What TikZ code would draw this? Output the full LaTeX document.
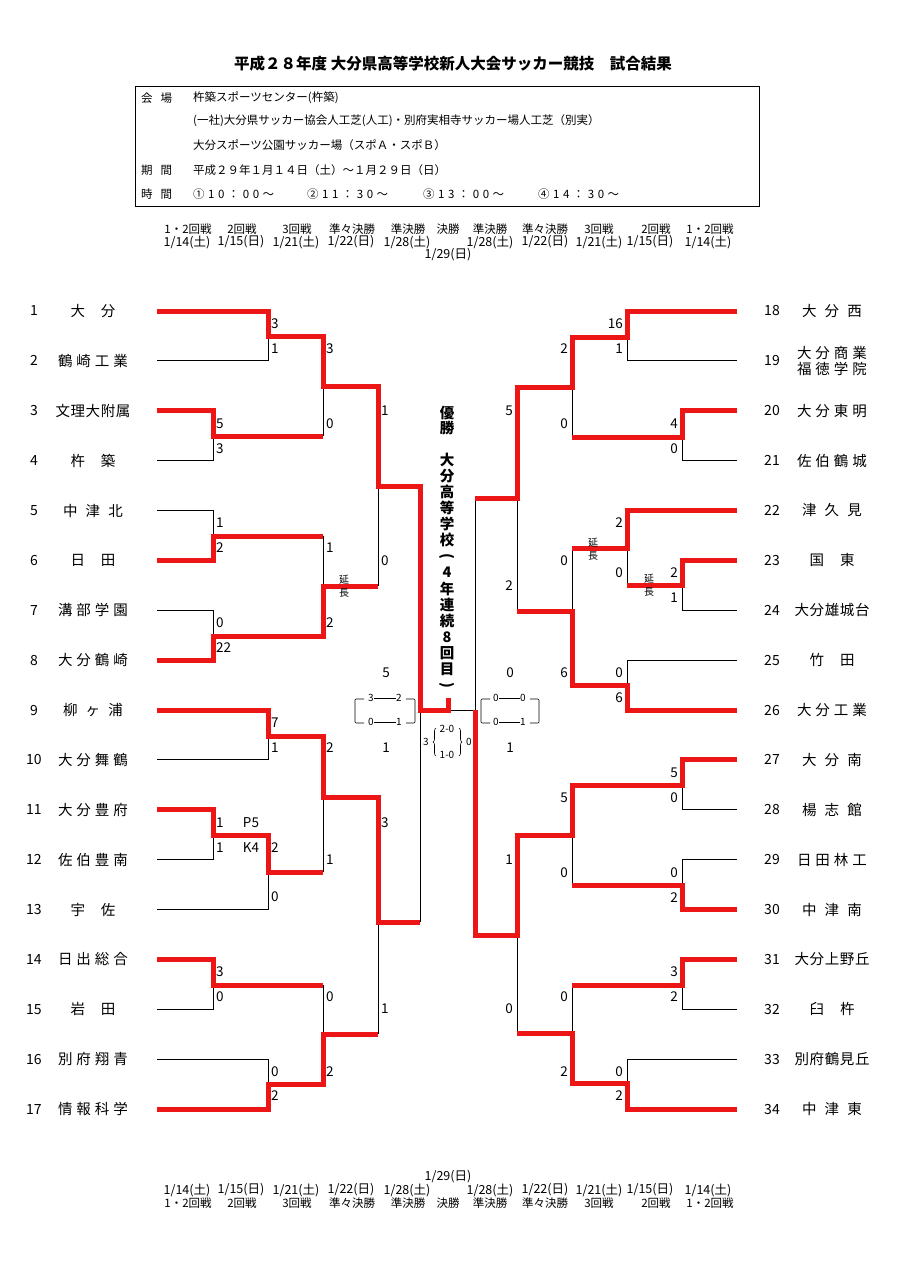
\documentclass[tikz,border=0pt]{standalone}
\usepackage{fontspec}
\setmainfont{Noto Sans CJK JP}
\usepackage{tikz}
\usetikzlibrary{decorations.pathreplacing}
\usepackage{xcolor}
\definecolor{winred}{RGB}{236,22,22}

\newcommand{\spreadname}[2]{\makebox[#1pt][s]{#2}}

\tikzset{
  win/.style={draw=winred, line width=5pt},
  lose/.style={draw=black, line width=0.8pt},
  team/.style={font=\fontsize{14.5}{16}\selectfont, inner sep=0pt},
  num/.style={font=\fontsize{14}{14}\selectfont, inner sep=0pt},
  score/.style={font=\fontsize{13.5}{14}\selectfont, inner sep=0pt},
  small/.style={font=\fontsize{10}{13}\selectfont, inner sep=0.5pt, align=center},
  info/.style={font=\fontsize{11.5}{12}\selectfont, inner sep=0pt, anchor=west},
  head/.style={font=\fontsize{11.5}{12}\selectfont, inner sep=0pt},
  date/.style={font=\fontsize{12.5}{13}\selectfont, inner sep=0pt},
  champ/.style={font=\bfseries\fontsize{14.5}{16}\selectfont, inner sep=0pt},
}

\begin{document}
\begin{tikzpicture}[x=1pt, y=-1pt]
  \useasboundingbox (0,0) rectangle (906,1283);

  % title and venue box
  \node[font=\bfseries\fontsize{15.5}{16}\selectfont] (title) at (453,64) {平成２８年度 大分県高等学校新人大会サッカー競技　試合結果};
  \draw[line width=0.8pt] (135,86) rectangle (759,206);
  \node[info] (lab1) at (141,98) {\spreadname{31}{会\hfill 場}};
  \node[info] (lab2) at (141,170) {\spreadname{31}{期\hfill 間}};
  \node[info] (lab3) at (141,194) {\spreadname{31}{時\hfill 間}};
  \node[info] (ven1) at (193,98) {杵築スポーツセンター(杵築)};
  \node[info] (ven2) at (193,121) {(一社)大分県サッカー協会人工芝(人工)・別府実相寺サッカー場人工芝（別実）};
  \node[info] (ven3) at (193,145) {大分スポーツ公園サッカー場（スポＡ・スポＢ）};
  \node[info] (per) at (193,170) {平成２９年１月１４日（土）～１月２９日（日）};
  \node[info] (tm1) at (193,194) {\spreadname{81}{①\hfill 1\hfill 0\hfill ：\hfill 0\hfill 0\hfill ～}};
  \node[info] (tm2) at (307,194) {\spreadname{81}{②\hfill 1\hfill 1\hfill ：\hfill 3\hfill 0\hfill ～}};
  \node[info] (tm3) at (423,194) {\spreadname{81}{③\hfill 1\hfill 3\hfill ：\hfill 0\hfill 0\hfill ～}};
  \node[info] (tm4) at (538,194) {\spreadname{81}{④\hfill 1\hfill 4\hfill ：\hfill 3\hfill 0\hfill ～}};

  % round names and dates, top and bottom
  \foreach \x/\r [count=\k] in {188/1・2回戦, 242/2回戦, 297/3回戦, 352/準々決勝, 408/準決勝, 448/決勝,
      490/準決勝, 545/準々決勝, 599/3回戦, 656/2回戦, 710/1・2回戦} {
    \node[head] (rt\k) at (\x,229) {\r};
    \node[head] (rb\k) at (\x,1203) {\r};
  }
  \foreach \x/\d [count=\k] in {187/{1/14(土)}, 241/{1/15(日)}, 296/{1/21(土)}, 351/{1/22(日)}, 407/{1/28(土)},
      490/{1/28(土)}, 545/{1/22(日)}, 599/{1/21(土)}, 650/{1/15(日)}, 708/{1/14(土)}} {
    \node[date] (dt\k) at (\x,242) {\d};
    \node[date] (db\k) at (\x,1190) {\d};
  }
  \node[date] (dfin1) at (448,255) {1/29(日)};
  \node[date] (dfin2) at (448,1177) {1/29(日)};

  % team line ends
  \foreach \i in {1,...,17} \coordinate (e\i) at (157,311+49.875*\i-49.875);
  \foreach \i in {18,...,34} \coordinate (e\i) at (737,311+49.875*\i-49.875*18);

  % losing lines, left
  \draw[lose] (e2) -| (268,336);
  \draw[lose] (e4) -| (213,436);
  \draw[lose] (e5) -| (213,536);
  \draw[lose] (e7) -| (213,636);
  \draw[lose] (323,386) -- (323,436);
  \draw[lose] (323,536) -- (323,586);
  \draw[lose] (378,486) -- (378,586);
  \draw[lose] (e10) -| (268,736);
  \draw[lose] (e12) -| (213,835);
  \draw[lose] (e13) -| (268,872);
  \draw[lose] (323,797) -- (323,872);
  \draw[lose] (e15) -| (213,985);
  \draw[lose] (e16) -| (268,1084);
  \draw[lose] (323,985) -- (323,1034);
  \draw[lose] (378,922) -- (378,1034);
  \draw[lose] (420,710) -- (420,922);
  % final and losing lines, right
  \draw[lose] (420,710) -- (475,710);
  \draw[lose] (475,498) -- (475,710);
  \draw[lose] (e19) -| (627,337);
  \draw[lose] (e21) -| (682,437);
  \draw[lose] (572,387) -- (572,437);
  \draw[lose] (517,498) -- (517,611);
  \draw[lose] (e24) -| (682,585);
  \draw[lose] (627,548) -- (627,585);
  \draw[lose] (e25) -| (627,685);
  \draw[lose] (572,548) -- (572,611);
  \draw[lose] (e28) -| (682,785);
  \draw[lose] (e29) -| (682,885);
  \draw[lose] (572,835) -- (572,885);
  \draw[lose] (517,935) -- (517,1033);
  \draw[lose] (e32) -| (682,985);
  \draw[lose] (e33) -| (627,1083);
  \draw[lose] (572,985) -- (572,1033);

  % winners, left
  \draw[win] (e1) -| (268,336) -| (323,386) -| (378,486) -| (420,710) -| (448,698);
  \draw[win] (e3) -| (213,436) -- (323,436);
  \draw[win] (e6) -| (213,536) -- (323,536);
  \draw[win] (e8) -| (213,636) -| (323,586) -- (378,586);
  \draw[win] (e9) -| (268,736) -| (323,797) -| (378,922) -- (420,922);
  \draw[win] (e11) -| (213,835) -| (268,872) -- (323,872);
  \draw[win] (e14) -| (213,985) -- (323,985);
  \draw[win] (e17) -| (268,1084) -| (323,1034) -- (378,1034);
  % winners, right
  \draw[win] (e18) -| (627,337) -| (572,387) -| (517,498) -- (475,498);
  \draw[win] (e20) -| (682,437) -- (572,437);
  \draw[win] (e22) -| (627,548) -- (572,548);
  \draw[win] (e23) -| (682,585) -- (627,585);
  \draw[win] (e26) -| (627,685) -| (572,611) -- (517,611);
  \draw[win] (e27) -| (682,785) -| (572,835) -| (517,935) -| (475,710);
  \draw[win] (e30) -| (682,885) -- (572,885);
  \draw[win] (e31) -| (682,985) -- (572,985);
  \draw[win] (e34) -| (627,1083) -| (572,1033) -- (517,1033);

  % team numbers and names
  \foreach \i/\w/\s in {1/45/{大\hfill 分}, 2/70/{鶴\hfill 崎\hfill 工\hfill 業}, 3/75/{文\hfill 理\hfill 大\hfill 附\hfill 属},
      4/45/{杵\hfill 築}, 5/60/{中\hfill 津\hfill 北}, 6/45/{日\hfill 田}, 7/70/{溝\hfill 部\hfill 学\hfill 園},
      8/70/{大\hfill 分\hfill 鶴\hfill 崎}, 9/60/{柳\hfill ヶ\hfill 浦}, 10/70/{大\hfill 分\hfill 舞\hfill 鶴},
      11/70/{大\hfill 分\hfill 豊\hfill 府}, 12/70/{佐\hfill 伯\hfill 豊\hfill 南}, 13/45/{宇\hfill 佐},
      14/70/{日\hfill 出\hfill 総\hfill 合}, 15/45/{岩\hfill 田}, 16/70/{別\hfill 府\hfill 翔\hfill 青},
      17/70/{情\hfill 報\hfill 科\hfill 学}} {
    \node[num] (n\i) at (34,311+49.875*\i-49.875) {\i};
    \node[team] (t\i) at (93,311+49.875*\i-49.875) {\spreadname{\w}{\s}};
  }
  \foreach \i/\w/\s in {18/60/{大\hfill 分\hfill 西}, 20/70/{大\hfill 分\hfill 東\hfill 明}, 21/70/{佐\hfill 伯\hfill 鶴\hfill 城},
      22/60/{津\hfill 久\hfill 見}, 23/45/{国\hfill 東}, 24/75/{大\hfill 分\hfill 雄\hfill 城\hfill 台},
      25/45/{竹\hfill 田}, 26/70/{大\hfill 分\hfill 工\hfill 業}, 27/60/{大\hfill 分\hfill 南},
      28/60/{楊\hfill 志\hfill 館}, 29/70/{日\hfill 田\hfill 林\hfill 工}, 30/60/{中\hfill 津\hfill 南},
      31/75/{大\hfill 分\hfill 上\hfill 野\hfill 丘}, 32/45/{臼\hfill 杵}, 33/75/{別\hfill 府\hfill 鶴\hfill 見\hfill 丘},
      34/60/{中\hfill 津\hfill 東}} {
    \node[team] (t\i) at (832,311+49.875*\i-49.875*18) {\spreadname{\w}{\s}};
  }
  \foreach \i in {18,...,34} \node[num] (n\i) at (772,311+49.875*\i-49.875*18) {\i};
  \node[team, align=center] (t19) at (832,361) {\spreadname{70}{大\hfill 分\hfill 商\hfill 業}\\\spreadname{70}{福\hfill 徳\hfill 学\hfill 院}};

  % scores
  \foreach \x/\y/\s [count=\k] in {268/324/3, 268/349/1, 213/424/5, 213/449/3, 323/349/3, 323/424/0,
      213/523/1, 213/548/2, 213/623/0, 213/648/22, 323/548/1, 323/623/2, 378/411/1, 378/561/0,
      268/723/7, 268/748/1, 213/823/1, 213/848/1, 268/848/2, 268/897/0, 323/748/2, 323/860/1,
      213/972/3, 213/997/0, 268/1072/0, 268/1096/2, 323/997/0, 323/1072/2, 378/823/3, 378/1009/1}
    \node[score, anchor=west] (sl\k) at (\x+3,\y) {\s};
  \foreach \x/\y/\s [count=\k] in {627/324/16, 627/349/1, 682/424/4, 682/449/0, 572/349/2, 572/424/0,
      517/411/5, 517/586/2, 627/523/2, 627/573/0, 682/573/2, 682/598/1, 627/673/0, 627/698/6,
      572/561/0, 572/673/6, 682/773/5, 682/798/0, 682/873/0, 682/898/2, 572/798/5, 572/873/0,
      517/860/1, 517/1009/0, 682/972/3, 682/997/2, 627/1072/0, 627/1096/2, 572/997/0, 572/1072/2}
    \node[score, anchor=east] (sr\k) at (\x-4,\y) {\s};
  \node[score] (pk1) at (251,823) {P5};
  \node[score] (pk2) at (251,848) {K4};
  \node[small] (ext1) at (344,586) {延\\長};
  \node[small] (ext2) at (593,549) {延\\長};
  \node[small] (ext3) at (649,585) {延\\長};

  % champion
  \node[champ] (win1) at (447,413) {優};
  \node[champ] (win2) at (447,428) {勝};
  \foreach \c [count=\k] in {大,分,高,等,学,校,{\rotatebox{-90}{(}},4,年,連,続,8,回,目,{\rotatebox{-90}{)}}}
    \node[champ] (ch\k) at (447,460+16.1*\k-16.1) {\c};

  % final scores
  \node[score] (fl1) at (386,673) {5};
  \node[score] (fl2) at (386,748) {1};
  \node[score] (fr1) at (510,673) {0};
  \node[score] (fr2) at (510,748) {1};
  \node[small] (la1) at (371,698) {3};
  \node[small] (la2) at (399,698) {2};
  \node[small] (la3) at (371,722) {0};
  \node[small] (la4) at (399,722) {1};
  \draw[line width=0.6pt] (la1) -- (la2);
  \draw[line width=0.6pt] (la3) -- (la4);
  \draw[line width=0.6pt, rounded corners=1pt] (364,699) -- (355,699) -- (355,723) -- (364,723);
  \draw[line width=0.6pt, rounded corners=1pt] (406,699) -- (415,699) -- (415,723) -- (406,723);
  \node[small] (ra1) at (496,698) {0};
  \node[small] (ra2) at (523,698) {0};
  \node[small] (ra3) at (496,722) {0};
  \node[small] (ra4) at (523,722) {1};
  \draw[line width=0.6pt] (ra1) -- (ra2);
  \draw[line width=0.6pt] (ra3) -- (ra4);
  \draw[line width=0.6pt, rounded corners=1pt] (490,699) -- (481,699) -- (481,723) -- (490,723);
  \draw[line width=0.6pt, rounded corners=1pt] (530,699) -- (539,699) -- (539,723) -- (530,723);
  % penalty kicks
  \node[small] (pkl) at (426,742) {3};
  \node[small] (pka) at (447,729) {2-0};
  \node[small] (pkb) at (447,755) {1-0};
  \node[small] (pkr) at (469,742) {0};
  \draw[line width=0.6pt, decorate, decoration={brace, amplitude=3pt}] (436,756) -- (436,728);
  \draw[line width=0.6pt, decorate, decoration={brace, amplitude=3pt}] (459,728) -- (459,756);
\end{tikzpicture}
\end{document}
